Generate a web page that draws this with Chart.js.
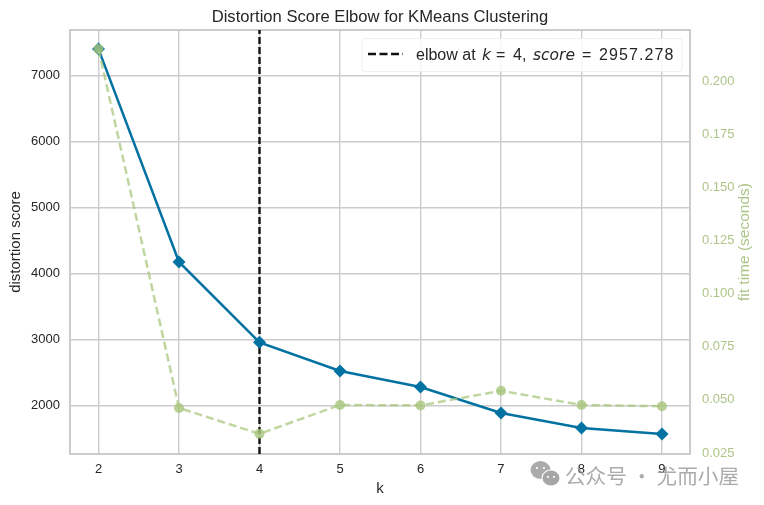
<!DOCTYPE html>
<html><head><meta charset="utf-8">
<style>html,body{margin:0;padding:0;background:#fff}canvas{display:block}</style>
<script src="https://cdn.jsdelivr.net/npm/chart.js@4"></script>
</head><body><canvas id="c" width="764" height="505"></canvas>
<script>
const kValues = [2,3,4,5,6,7,8,9];
const distortion = [7400,4174,2957.278,2523,2280,1886,1660,1568];
const fitTime = [0.2153,0.0462,0.0340,0.0476,0.0474,0.0543,0.0476,0.0470];
const elbowK = [4,4];
const elbowY = [1265,7689];
const leftTicks = [2000,3000,4000,5000,6000,7000];
const rightTicks = [0.025,0.05,0.075,0.1,0.125,0.15,0.175,0.2];
const FONT = '"Liberation Sans", Arial, sans-serif';
const TXT = '#262626', GRID = '#cccccc', BLUE = '#0272a2', GREEN = '#adc588';

function pts(xs, ys){ return xs.map((x,i)=>({x, y:ys[i]})); }
function fixTicks(list){ return s => { s.ticks = list.map(v=>({value:v})); }; }

const overlay = {
  id:'overlay',
  beforeDatasetsDraw(chart){
    const a = chart.chartArea, c = chart.ctx;
    c.save(); c.strokeStyle = GRID; c.lineWidth = 2;
    c.strokeRect(a.left, a.top, a.right-a.left, a.bottom-a.top);
    c.restore();
  },
  afterDraw(chart){
    const c = chart.ctx;
    c.save();
    // legend box
    c.fillStyle='rgba(255,255,255,0.85)'; c.strokeStyle='rgba(235,235,235,0.8)'; c.lineWidth=1;
    c.beginPath(); c.roundRect(362,38.5,320,33,3); c.fill(); c.stroke();
    c.strokeStyle='#111'; c.lineWidth=2.4; c.setLineDash([8,3.5]);
    c.beginPath(); c.moveTo(368,54); c.lineTo(403,54); c.stroke(); c.setLineDash([]);
    c.fillStyle=TXT; c.textBaseline='alphabetic'; c.textAlign='left';
    const y=60;
    [['elbow at',416,false,0],['k',482,true,0],['=',496,false,0],['4,',513,false,0],['score',533,true,0],['=',582,false,0],['2957.278',599,false,1.1]].forEach(([t,x,it,ls])=>{
      c.font=(it?'italic 15.5px "DejaVu Sans"':'16px '+FONT);
      c.letterSpacing=ls+'px';
      c.fillText(t,x,y);
    });
    c.letterSpacing='0px';
    // right axis title
    c.save(); c.translate(745,242); c.rotate(-Math.PI/2);
    c.font='15.5px '+FONT; c.fillStyle=GREEN; c.textAlign='center'; c.textBaseline='middle';
    c.fillText('fit time (seconds)',0,0); c.restore();
    // watermark
    c.fillStyle='rgba(150,150,150,0.8)';
    c.beginPath(); c.ellipse(540.5,470,10,9,0,0,Math.PI*2); c.fill();
    c.fillStyle='#fff';
    c.beginPath(); c.ellipse(551,478,9.5,8.5,0,0,Math.PI*2); c.fill();
    c.fillStyle='rgba(150,150,150,0.85)';
    c.beginPath(); c.ellipse(551,478,8.5,7.5,0,0,Math.PI*2); c.fill();
    c.fillStyle='#fff';
    [[537,468],[544,468],[548,477],[554,477]].forEach(([x,yy])=>{c.beginPath();c.arc(x,yy,1.1,0,Math.PI*2);c.fill();});
    c.fillStyle='rgba(150,150,150,0.8)';
    c.font='20.6px "Noto Sans CJK SC"'; c.textBaseline='middle'; c.textAlign='left';
    c.fillText('公众号 · 尤而小屋',565,476);
    c.restore();
  }
};

new Chart(document.getElementById('c'),{
  type:'line',
  data:{datasets:[
    {label:'elbow',data:pts(elbowK,elbowY),xAxisID:'x',yAxisID:'y',borderColor:'#111',borderWidth:2.4,borderDash:[7,3],pointRadius:0,order:3},
    {label:'fit time',data:pts(kValues,fitTime),xAxisID:'x',yAxisID:'y2',borderColor:'rgba(168,198,124,0.72)',borderWidth:2.5,borderDash:[8,4],pointStyle:'circle',pointRadius:5,pointBackgroundColor:'rgba(168,198,124,0.8)',pointBorderWidth:0,tension:0,order:1},
    {label:'distortion score',data:pts(kValues,distortion),xAxisID:'x',yAxisID:'y',borderColor:BLUE,borderWidth:2.5,pointStyle:'rectRot',pointRadius:6.5,pointBackgroundColor:BLUE,pointBorderWidth:0,tension:0,order:2}
  ]},
  options:{
    responsive:false,animation:false,
    layout:{padding:{top:0,bottom:7,left:0,right:0}},
    plugins:{
      legend:{display:false},tooltip:{enabled:false},
      title:{display:true,text:'Distortion Score Elbow for KMeans Clustering',fullSize:false,color:TXT,
        font:{family:FONT,size:16.6,weight:'normal'},padding:{top:7,bottom:3.1}}
    },
    scales:{
      x:{type:'linear',min:1.646,max:9.348,afterBuildTicks:fixTicks(kValues),
        afterFit(s){s.height=44;},
        grid:{color:GRID,lineWidth:1.4,drawTicks:false},border:{display:false},
        ticks:{color:TXT,font:{family:FONT,size:13},padding:8,maxRotation:0},
        title:{display:true,text:'k',color:TXT,font:{family:FONT,size:15},padding:{top:0,bottom:0}}},
      y:{type:'linear',position:'left',min:1265,max:7689,afterBuildTicks:fixTicks(leftTicks),
        afterFit(s){s.width=70;},
        grid:{color:GRID,lineWidth:1.4,drawTicks:false},border:{display:false},
        ticks:{color:TXT,font:{family:FONT,size:13},padding:10,callback:v=>String(v)},
        title:{display:true,text:'distortion score',color:TXT,font:{family:FONT,size:15},padding:{top:7,bottom:0}}},
      y2:{type:'linear',position:'right',min:0.0245,max:0.2243,afterBuildTicks:fixTicks(rightTicks),
        afterFit(s){s.width=74;},
        grid:{display:false,drawTicks:false},border:{display:false},
        ticks:{color:GREEN,font:{family:FONT,size:13},padding:12,callback:v=>v.toFixed(3)}}
    }
  },
  plugins:[overlay]
});
</script></body></html>
